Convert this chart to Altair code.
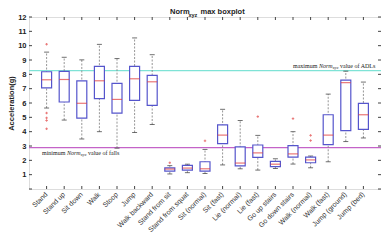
import altair as alt
import pandas as pd

cats = ["Stand", "Stand up", "Sit down", "Walk", "Stoop", "Jump", "Walk backward",
        "Stand from sit", "Stand from squat", "Sit (normal)", "Sit (fast)",
        "Lie (normal)", "Lie (fast)", "Go up stairs", "Go down stairs",
        "Walk (normal)", "Walk (fast)", "Jump (ground)", "Jump (bed)"]
lower_whisker = [5.65, 4.81, 3.49, 4.00, 2.85, 3.94, 4.50, 1.05, 1.14, 1.08, 1.68,
                 1.41, 1.32, 1.43, 1.74, 1.48, 1.90, 3.31, 3.56]
q1 = [7.06, 6.07, 4.94, 6.31, 5.30, 6.18, 5.84, 1.25, 1.31, 1.25, 3.16,
      1.61, 2.21, 1.56, 2.23, 1.83, 3.09, 4.07, 4.16]
median = [7.62, 7.64, 5.98, 7.55, 6.25, 7.69, 7.48, 1.39, 1.46, 1.41, 3.76,
          1.81, 2.52, 1.73, 2.45, 2.03, 3.76, 7.42, 5.18]
q3 = [8.18, 8.20, 7.55, 8.56, 7.37, 8.56, 7.93, 1.48, 1.65, 1.90, 4.47,
      2.94, 3.07, 1.93, 3.03, 2.23, 5.18, 7.60, 5.98]
upper_whisker = [9.55, 9.19, 9.01, 10.09, 9.10, 10.54, 9.37, 1.63, 1.73, 2.76, 5.56,
                 4.78, 3.74, 2.11, 4.00, 2.30, 6.62, 8.22, 7.46]
outlier_cat = ["Stand", "Stand", "Stand", "Stand", "Stand", "Stand from sit",
               "Sit (normal)", "Lie (fast)", "Go down stairs", "Walk (normal)", "Walk (normal)"]
outlier_val = [10.1, 5.3, 4.96, 4.78, 4.2, 1.83, 3.36, 5.05, 4.91, 3.74, 3.38]
y_ticks = list(range(0, 13))
y_labels = list(range(1, 13))
adl_max = 8.26
fall_min = 2.89

W, H = 352, 172
SANS = "Liberation Sans"
SERIF = "Liberation Serif"
BLUE = "#5555cc"
RED = "#e03c3c"

box = pd.DataFrame({"cat": cats, "lw": lower_whisker, "q1": q1, "med": median,
                    "q3": q3, "uw": upper_whisker})
out = pd.DataFrame({"cat": outlier_cat, "v": outlier_val})
yt = pd.DataFrame({"v": y_ticks})
xt = pd.DataFrame({"cat": cats})
one = pd.DataFrame({"a": [0]})

xs = alt.Scale(domain=cats, paddingInner=0, paddingOuter=0.5)
ys = alt.Scale(domain=[0, 12], nice=False, zero=True)

x_axis = alt.Axis(labelAngle=-45, labelAlign="right", labelBaseline="middle",
                  tickSize=0, domain=False, labelFontSize=7, labelFont=SANS,
                  labelColor="#333", labelPadding=4, grid=False)
y_axis = alt.Axis(values=y_labels, grid=False, domain=False, tickSize=0,
                  labelFontSize=7.5, labelFont=SANS, labelFontWeight="bold",
                  labelColor="#222", labelPadding=3, titleFont=SANS,
                  titleFontSize=7.5, titleFontWeight="bold", titleColor="#222",
                  titlePadding=2)

X = alt.X("cat:N", scale=xs, sort=cats, title=None, axis=x_axis)

def yq(f):
    return alt.Y(f + ":Q", scale=ys, title="Acceleration(g)", axis=y_axis)

whisk = alt.Chart(box).mark_rule(color="#8a8a8a", strokeDash=[2, 1.5], strokeWidth=0.9).encode(
    x=X, y=yq("lw"), y2="uw")
caps_lo = alt.Chart(box).mark_tick(color="#333", size=5, thickness=1).encode(x=X, y=yq("lw"))
caps_hi = alt.Chart(box).mark_tick(color="#333", size=5, thickness=1).encode(x=X, y=yq("uw"))
bars = alt.Chart(box).mark_bar(size=10, fill="white", stroke=BLUE, strokeWidth=1.2).encode(
    x=X, y=yq("q1"), y2="q3")
meds = alt.Chart(box).mark_tick(color=RED, size=10, thickness=1.2).encode(x=X, y=yq("med"))
outs = alt.Chart(out).mark_point(shape="M-1,0L1,0M0,-1L0,1", filled=False, color=RED,
                                 size=6, strokeWidth=1).encode(x=X, y=yq("v"))

# inward frame ticks
lt = alt.Chart(yt).mark_rule(color="#444").encode(y=yq("v"), x=alt.value(0), x2=alt.value(3))
rt = alt.Chart(yt).mark_rule(color="#444").encode(y=yq("v"), x=alt.value(W - 3), x2=alt.value(W))
bt = alt.Chart(xt).mark_rule(color="#444").encode(x=X, y=alt.value(H - 3), y2=alt.value(H))
tt = alt.Chart(xt).mark_rule(color="#444").encode(x=X, y=alt.value(0), y2=alt.value(3))

line_max = alt.Chart(one).mark_rule(color="#7fe3d6", strokeWidth=1.2).encode(
    y=alt.datum(adl_max, scale=ys, axis=y_axis, title="Acceleration(g)"))
line_min = alt.Chart(one).mark_rule(color="#c463c8", strokeWidth=1.2).encode(
    y=alt.datum(fall_min, scale=ys, axis=y_axis, title="Acceleration(g)"))

def txt(s, x, ydatum=None, yval=None, dy=0, size=6, font=SERIF, style="normal",
        weight="normal", align="left"):
    enc = {"x": alt.value(x), "text": alt.value(s)}
    if ydatum is not None:
        enc["y"] = alt.datum(ydatum, scale=ys, axis=y_axis, title="Acceleration(g)")
    else:
        enc["y"] = alt.value(yval)
    return alt.Chart(one).mark_text(align=align, baseline="alphabetic", dy=dy, fontSize=size,
                                    font=font, fontStyle=style, fontWeight=weight,
                                    color="#222").encode(**enc)

ax0 = 264
ann_max = [
    txt("maximum", ax0, adl_max, dy=-3),
    txt("Norm", ax0 + 26, adl_max, dy=-3, style="italic"),
    txt("xyz", ax0 + 39.7, adl_max, dy=-1.5, size=4.5, style="italic"),
    txt("value of ADLs", ax0 + 47, adl_max, dy=-3),
]
bx0 = 13
ann_min = [
    txt("minimum", bx0, fall_min, dy=7),
    txt("Norm", bx0 + 25, fall_min, dy=7, style="italic"),
    txt("xyz", bx0 + 38.7, fall_min, dy=8.5, size=4.5, style="italic"),
    txt("value of falls", bx0 + 46, fall_min, dy=7),
]
tx0 = 141
title = [
    txt("Norm", tx0, yval=-3, size=7.5, font=SANS, weight="bold"),
    txt("xyz", tx0 + 18.5, yval=-0.5, size=5.5, font=SANS, weight="bold"),
    txt("max boxplot", tx0 + 30.5, yval=-3, size=7.5, font=SANS, weight="bold"),
]

chart = alt.layer(
    bt, lt, rt, tt, line_max, line_min, whisk, caps_lo, caps_hi, bars, meds, outs,
    *ann_max, *ann_min, *title
).properties(
    width=W, height=H,
    autosize=alt.AutoSizeParams(type="none"),
    padding={"left": 21, "top": 9, "right": 0, "bottom": 45},
).configure_view(stroke="#444", strokeWidth=1).configure(background="white")

chart.save("out.html", embed_options={"renderer": "svg", "actions": False})
